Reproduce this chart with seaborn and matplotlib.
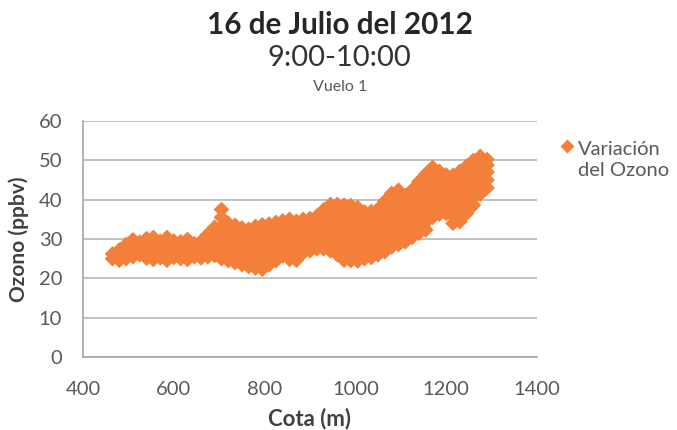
import numpy as np
import pandas as pd
import matplotlib
matplotlib.use("Agg")
import matplotlib.pyplot as plt
from matplotlib.lines import Line2D
from matplotlib.legend_handler import HandlerLine2D
import seaborn as sns

# altitude columns (m) and the ozone readings seen at each one (ppbv)
cota_m = [465, 480, 495, 510, 525, 540, 555, 570, 585, 600, 615, 630, 645, 660,
          675, 690, 705, 720, 735, 750, 765, 780, 795, 810, 825, 840, 855, 870,
          885, 900, 915, 930, 945, 960, 975, 990, 1005, 1020, 1035, 1050, 1065,
          1080, 1095, 1110, 1125, 1140, 1155, 1170, 1185, 1200, 1215, 1230,
          1245, 1260, 1275, 1290]

ozono_ppbv = [
    [25.0, 26.2],
    [24.6, 26.0, 27.2],
    [25.0, 27.0, 28.6],
    [25.5, 27.5, 29.8],
    [26.0, 27.8, 29.2],
    [25.1, 27.0, 29.0, 30.1],
    [24.8, 26.8, 28.6, 30.4],
    [25.2, 27.2, 29.4],
    [24.6, 26.6, 28.5, 30.4],
    [25.3, 27.4, 29.5],
    [25.0, 27.0, 29.3],
    [24.8, 26.8, 28.6, 29.9],
    [25.5, 27.3, 28.8],
    [25.2, 27.2, 29.4],
    [25.5, 27.5, 29.4, 31.2],
    [25.8, 27.8, 29.8, 31.6, 33.0],
    [25.0, 27.0, 29.0, 31.0, 33.0, 35.5, 37.5],
    [24.5, 26.5, 28.4, 30.3, 32.2, 34.0],
    [24.0, 26.0, 28.0, 30.0, 31.8, 33.5],
    [23.5, 25.5, 27.5, 29.5, 31.2, 32.8],
    [23.0, 25.0, 27.0, 29.0, 30.8, 32.5],
    [22.6, 24.6, 26.6, 28.6, 30.6, 32.4, 33.2],
    [22.3, 24.3, 26.3, 28.3, 30.3, 32.0, 33.6],
    [23.5, 25.5, 27.4, 29.4, 31.5, 33.8],
    [24.5, 26.5, 28.5, 30.5, 32.4, 34.2],
    [25.7, 27.6, 29.5, 31.4, 33.2, 34.6],
    [24.8, 26.8, 28.8, 30.8, 32.8, 35.0],
    [24.6, 26.6, 28.6, 30.6, 32.6, 34.5],
    [26.5, 28.5, 30.5, 32.5, 35.0],
    [27.0, 29.0, 31.0, 33.0, 35.2],
    [27.5, 29.5, 31.5, 33.5, 35.8],
    [27.5, 29.5, 31.5, 33.5, 35.5, 37.4],
    [27.0, 29.0, 31.0, 33.0, 35.0, 37.0, 38.8],
    [26.0, 28.0, 30.0, 32.0, 34.0, 36.0, 38.0, 38.8],
    [24.6, 26.6, 28.6, 30.6, 32.6, 34.6, 36.6, 38.6],
    [24.5, 26.5, 28.5, 30.5, 32.5, 34.5, 36.5, 38.5],
    [24.4, 26.4, 28.4, 30.4, 32.4, 34.4, 36.4, 38.0],
    [25.0, 27.0, 29.0, 31.0, 33.0, 35.0, 36.9],
    [25.3, 27.3, 29.3, 31.3, 33.3, 35.3, 37.0],
    [26.0, 28.0, 30.0, 32.0, 34.0, 36.0, 37.6],
    [26.8, 28.8, 30.8, 32.8, 34.8, 36.8, 38.6, 39.6],
    [28.0, 30.0, 32.0, 34.0, 36.0, 38.0, 40.0, 41.6],
    [28.6, 30.6, 32.6, 34.6, 36.6, 38.6, 40.6, 42.4],
    [29.3, 31.3, 33.3, 35.3, 37.3, 39.3, 41.0],
    [30.4, 32.4, 34.4, 36.4, 38.4, 40.4, 42.5],
    [31.5, 33.5, 35.5, 37.5, 39.5, 41.5, 43.2, 44.6],
    [32.3, 34.3, 36.3, 38.3, 40.3, 42.3, 44.3, 46.5],
    [35.5, 37.5, 39.5, 41.5, 43.5, 45.5, 47.0, 48.2],
    [36.3, 38.3, 40.3, 42.3, 44.3, 46.0, 47.2],
    [36.5, 38.5, 40.5, 42.5, 44.5, 46.3],
    [34.0, 36.0, 38.0, 40.0, 42.0, 44.0, 46.2],
    [34.4, 36.4, 38.4, 40.4, 42.4, 44.4, 46.0, 47.2],
    [36.5, 38.5, 40.5, 42.5, 44.5, 46.5, 48.5],
    [38.6, 40.6, 42.6, 44.6, 46.6, 48.4, 50.0],
    [41.4, 43.4, 45.4, 47.4, 49.4, 51.0],
    [43.0, 45.0, 47.0, 48.8, 50.2],
]

x_ticks = [400, 600, 800, 1000, 1200, 1400]
y_ticks = [0, 10, 20, 30, 40, 50, 60]

rows = []
for c, vals in zip(cota_m, ozono_ppbv):
    for v in vals:
        rows.append({'Cota': c, 'Ozono': v})
df = pd.DataFrame(rows)


# legend key sits level with the first line of a two-line label
class FirstLineHandler(HandlerLine2D):
    def create_artists(self, legend, orig_handle, xdescent, ydescent,
                       width, height, fontsize, trans):
        arts = super().create_artists(legend, orig_handle, xdescent, ydescent,
                                      width, height, fontsize, trans)
        for a in arts:
            a.set_ydata(np.asarray(a.get_ydata()) + 0.7 * fontsize)
        return arts


sns.set_style("white")
plt.rcParams['font.family'] = ['Lato', 'DejaVu Sans']

orange = '#F47F3A'
grey_txt = '#595959'

fig = plt.figure(figsize=(6.77, 4.30), dpi=100)
ax = fig.add_axes([0.1226, 0.1698, 0.6706, 0.5488])

sns.scatterplot(data=df, x='Cota', y='Ozono', marker='D', s=64, color=orange,
                edgecolor='none', linewidth=0, ax=ax, legend=False)

ax.set_xlim(400, 1400)
ax.set_ylim(0, 60)
ax.set_xticks(x_ticks)
ax.set_yticks(y_ticks)
ax.yaxis.grid(True, color='#bcbcbc', linewidth=1.3)
ax.xaxis.grid(False)
ax.set_axisbelow(True)
for side in ['top', 'right']:
    ax.spines[side].set_visible(False)
for side in ['left', 'bottom']:
    ax.spines[side].set_color('#a6a6a6')
    ax.spines[side].set_linewidth(1.2)

ax.tick_params(axis='x', direction='in', length=5, width=1.2, color='#a6a6a6',
               pad=17, labelsize=14.5, labelcolor=grey_txt)
ax.tick_params(axis='y', length=0, pad=15, labelsize=14.5, labelcolor=grey_txt)

ax.set_xlabel('Cota (m)', fontsize=16, fontweight='bold', color='#404040', labelpad=7)
ax.set_ylabel('Ozono (ppbv)', fontsize=15, fontweight='bold', color='#404040', labelpad=7)

fig.text(0.502, 0.942, '16 de Julio del 2012', ha='center', va='center',
         fontsize=21.3, fontweight='bold', color='#262626')
fig.text(0.502, 0.866, '9:00-10:00', ha='center', va='center',
         fontsize=21, color='#333333')
fig.text(0.502, 0.797, 'Vuelo 1', ha='center', va='center',
         fontsize=11.5, color=grey_txt)

handles = [Line2D([], [], marker='D', linestyle='none', markersize=7,
                  markerfacecolor=orange, markeredgecolor='none')]
leg = fig.legend(handles, ['Variación\ndel Ozono'], loc='upper left',
                 bbox_to_anchor=(0.818, 0.69), frameon=False, fontsize=14.5,
                 handlelength=0.5, handletextpad=0.3, borderaxespad=0,
                 handler_map={Line2D: FirstLineHandler()})
for t in leg.get_texts():
    t.set_color(grey_txt)
    t.set_linespacing(1.25)

fig.savefig('out.png', dpi=100)
